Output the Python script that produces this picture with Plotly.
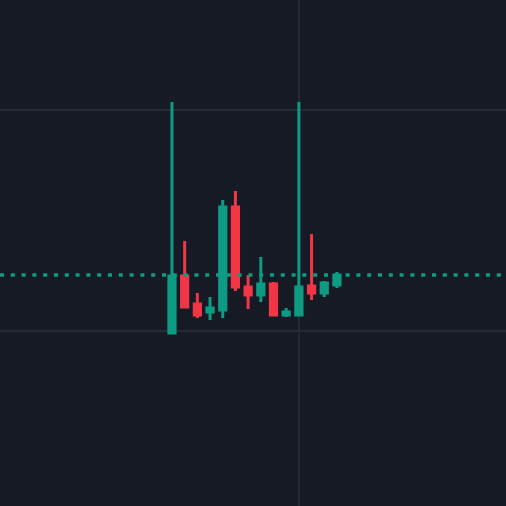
import pandas as pd
import plotly.graph_objects as go

dates = ["2024-03-01", "2024-03-02", "2024-03-03", "2024-03-04", "2024-03-05",
         "2024-03-06", "2024-03-07", "2024-03-08", "2024-03-09", "2024-03-10",
         "2024-03-11", "2024-03-12", "2024-03-13", "2024-03-14"]
opens = [99.91, 102.49, 101.22, 100.86, 100.95, 105.61, 101.99, 101.63, 102.13, 100.72, 100.72, 102.04, 101.72, 102.08]
highs = [110.36, 104.07, 101.72, 101.54, 105.93, 106.33, 102.53, 103.35, 102.22, 101.04, 110.36, 104.39, 102.26, 102.67]
lows = [99.91, 101.04, 100.59, 100.50, 100.59, 101.81, 101.00, 101.31, 100.72, 100.63, 100.72, 101.40, 101.54, 101.95]
closes = [102.49, 101.09, 100.72, 101.04, 105.61, 101.99, 101.63, 102.13, 100.72, 100.86, 101.99, 101.72, 102.17, 102.53]
grid_price = [100, 110]
grid_date = [dates[10]]

UP = "#0d9c83"
DOWN = "#f23645"
BG = "#161a25"
GRID = "#262a36"

fig = go.Figure(go.Candlestick(
    x=dates, open=opens, high=highs, low=lows, close=closes,
    increasing=dict(line=dict(color=UP, width=3), fillcolor=UP),
    decreasing=dict(line=dict(color=DOWN, width=3), fillcolor=DOWN),
    whiskerwidth=0, hoverinfo="skip",
))

last_color = UP if closes[-1] >= opens[-1] else DOWN
fig.add_shape(type="line", xref="paper", x0=0, x1=1, yref="y",
              y0=closes[-1], y1=closes[-1],
              line=dict(color=last_color, width=3.5, dash="4px,6.8px"),
              layer="above")

d0 = pd.Timestamp(dates[0])
x_lo = d0 - pd.Timedelta(days=13.55)
x_hi = d0 + pd.Timedelta(days=26.32)

fig.update_layout(
    width=506, height=506,
    margin=dict(l=0, r=0, t=0, b=0),
    paper_bgcolor=BG, plot_bgcolor=BG,
    showlegend=False,
    boxgap=0.3,
    xaxis=dict(type="date", range=[x_lo, x_hi], rangeslider=dict(visible=False),
               tickvals=grid_date, showticklabels=False, showgrid=True,
               gridcolor=GRID, gridwidth=2, zeroline=False, showline=False, ticks=""),
    yaxis=dict(range=[92.081, 114.977], tickvals=grid_price, showticklabels=False,
               showgrid=True, gridcolor=GRID, gridwidth=2, zeroline=False,
               showline=False, ticks=""),
)

fig.write_html("out.html", config={"displayModeBar": False},
               post_script="document.body.style.margin='0';document.body.style.overflow='hidden';document.body.style.background='#161a25';")
